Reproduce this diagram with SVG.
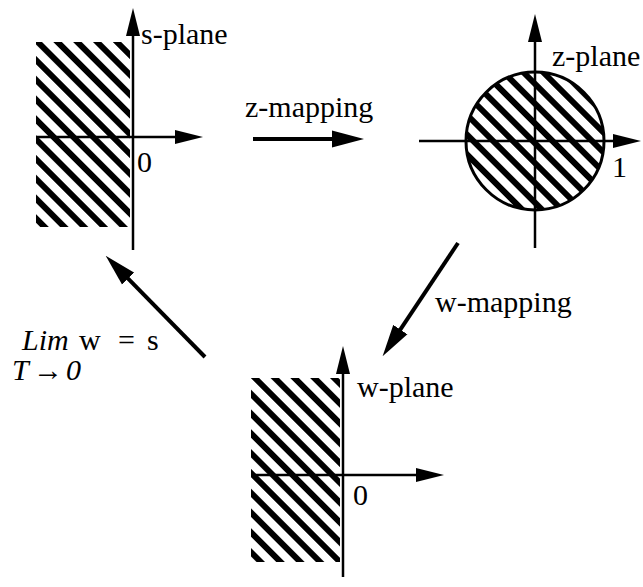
<svg xmlns="http://www.w3.org/2000/svg" width="643" height="587" viewBox="0 0 643 587">
  <style>
    .axis { stroke: #000; stroke-width: 2.5; fill: none; }
    .conn { stroke: #000; stroke-width: 4; fill: none; }
    .lbl { font-family: "Liberation Serif", "Times New Roman", serif; font-size: 30px; fill: #000; }
    .it { font-style: italic; }
  </style>
  <defs>
    <pattern id="hatch" patternUnits="userSpaceOnUse" width="14" height="14" patternTransform="rotate(45)">
      <rect x="0" y="0" width="14" height="6" fill="#000"/>
    </pattern>
    <marker id="axhead" viewBox="0 -7 28 14" markerWidth="28" markerHeight="14" refX="1" refY="0" markerUnits="userSpaceOnUse" orient="auto">
      <path d="M0,-7 L28,0 L0,7 Z" fill="#000"/>
    </marker>
    <marker id="maphead" viewBox="0 -9 32 18" markerWidth="32" markerHeight="18" refX="1" refY="0" markerUnits="userSpaceOnUse" orient="auto">
      <path d="M0,-8.5 L32,0 L0,8.5 Z" fill="#000"/>
    </marker>
  </defs>
  <rect width="643" height="587" fill="#fff"/>

  <g id="s-plane">
    <rect x="36" y="42" width="94" height="185" fill="url(#hatch)"/>
    <line class="axis" x1="133" y1="250" x2="133" y2="35" marker-end="url(#axhead)"/>
    <line class="axis" x1="37" y1="137" x2="176" y2="137" marker-end="url(#axhead)"/>
    <text class="lbl" x="141" y="44">s-plane</text>
    <text class="lbl" x="137" y="172">0</text>
  </g>

  <g id="z-plane">
    <circle cx="535" cy="141" r="69" fill="url(#hatch)" stroke="#000" stroke-width="3"/>
    <line class="axis" x1="535" y1="248" x2="535" y2="41" marker-end="url(#axhead)"/>
    <line class="axis" x1="419" y1="141" x2="614" y2="141" marker-end="url(#axhead)"/>
    <text class="lbl" x="552" y="66">z-plane</text>
    <text class="lbl" x="612" y="177">1</text>
  </g>

  <g id="w-plane">
    <rect x="251" y="378" width="89" height="184" fill="url(#hatch)"/>
    <line class="axis" x1="343" y1="577" x2="343" y2="373" marker-end="url(#axhead)"/>
    <line class="axis" x1="252" y1="475" x2="417" y2="475" marker-end="url(#axhead)"/>
    <text class="lbl" x="357" y="397">w-plane</text>
    <text class="lbl" x="353" y="505">0</text>
  </g>

  <g id="connectors">
    <line class="conn" stroke-width="3" x1="253" y1="139" x2="333" y2="139" marker-end="url(#maphead)"/>
    <line class="conn" x1="458" y1="243" x2="399.8" y2="330.4" marker-end="url(#maphead)"/>
    <line class="conn" x1="205" y1="357" x2="127.4" y2="277.9" marker-end="url(#maphead)"/>
  </g>

  <g id="labels">
    <text class="lbl" x="245" y="117">z-mapping</text>
    <text class="lbl" x="435" y="312">w-mapping</text>
    <text class="lbl" y="350"><tspan class="it" x="22">Lim</tspan><tspan x="79">w</tspan><tspan x="118">=</tspan><tspan x="147">s</tspan></text>
    <text class="lbl it" y="380"><tspan x="12">T</tspan><tspan x="33">→</tspan><tspan x="66">0</tspan></text>
  </g>
</svg>
